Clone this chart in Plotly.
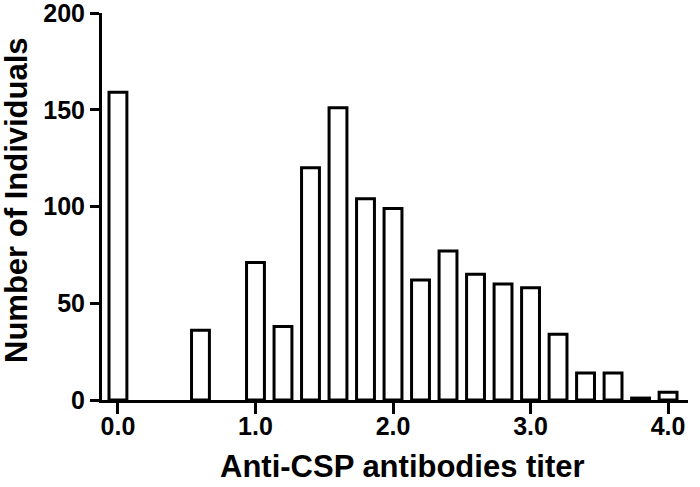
import plotly.graph_objects as go

titer = [0.0, 0.6, 1.0, 1.2, 1.4, 1.6, 1.8, 2.0, 2.2, 2.4, 2.6, 2.8, 3.0, 3.2, 3.4, 3.6, 3.8, 4.0]
counts = [159, 36, 71, 38, 120, 151, 104, 99, 62, 77, 65, 60, 58, 34, 14, 14, 1, 4]
x_ticks = [0, 1, 2, 3, 4]
x_tick_labels = ["0.0", "1.0", "2.0", "3.0", "4.0"]
y_ticks = [0, 50, 100, 150, 200]

font_family = "Liberation Sans, Arial, sans-serif"

fig = go.Figure(go.Bar(
    x=titer, y=counts, width=0.13,
    marker=dict(color="white", line=dict(color="black", width=3)),
))

fig.update_layout(
    width=700, height=487,
    margin=dict(l=102, r=12, t=13, b=87),
    plot_bgcolor="white", paper_bgcolor="white",
    showlegend=False,
    font=dict(family=font_family, color="black"),
)
fig.update_xaxes(
    range=[-0.116, 4.145],
    tickvals=x_ticks, ticktext=[f"<b>{t}</b>" for t in x_tick_labels],
    tickfont=dict(size=25, family=font_family),
    showline=True, linecolor="black", linewidth=3,
    ticks="outside", ticklen=11, tickwidth=3, tickcolor="black",
    ticklabelstandoff=-9,
    showgrid=False, zeroline=False, automargin=False,
    ticklabeloverflow="allow",
)
fig.update_yaxes(
    range=[0, 200],
    tickvals=y_ticks, ticktext=[f"<b>{t}</b>" for t in y_ticks],
    tickfont=dict(size=25, family=font_family),
    showline=True, linecolor="black", linewidth=3,
    ticks="outside", ticklen=9, tickwidth=3, tickcolor="black",
    showgrid=False, zeroline=False, automargin=False,
    ticklabeloverflow="allow",
)
fig.add_annotation(
    text="<b>Anti-CSP antibodies titer</b>", xref="paper", yref="paper",
    x=0.513, y=-0.172, xanchor="center", yanchor="middle", showarrow=False,
    font=dict(size=31, family=font_family, color="black"), borderpad=0,
)
fig.add_annotation(
    text="<b>Number of Individuals</b>", xref="paper", yref="paper",
    x=-0.145, y=0.517, xanchor="center", yanchor="middle", showarrow=False,
    textangle=-90, borderpad=0,
    font=dict(size=31, family=font_family, color="black"),
)

fig.write_html(
    "out.html",
    config={"displayModeBar": False},
    post_script="document.body.style.margin='0px';document.body.style.overflow='hidden';",
)
